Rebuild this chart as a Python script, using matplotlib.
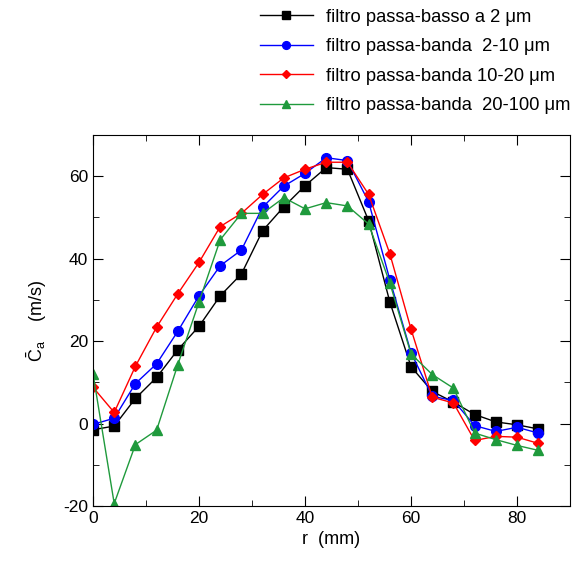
import numpy as np
import matplotlib.pyplot as plt
from matplotlib.ticker import MultipleLocator

plt.rcParams['font.family'] = ['Liberation Sans', 'DejaVu Sans']
plt.rcParams['mathtext.fontset'] = 'custom'
plt.rcParams['mathtext.rm'] = 'Liberation Sans'
plt.rcParams['mathtext.it'] = 'Liberation Sans'
plt.rcParams['axes.unicode_minus'] = False

# radial position (mm)
r = [0, 4, 8, 12, 16, 20, 24, 28, 32, 36, 40, 44, 48, 52, 56, 60, 64, 68, 72, 76, 80, 84]

# series values (m/s)
passa_basso_2 = [-1.5, -0.6, 6.1, 11.2, 17.9, 23.6, 31.0, 36.3, 46.8, 52.6, 57.7, 62.1,
                 61.7, 49.2, 29.5, 13.8, 7.8, 5.2, 2.2, 0.4, -0.3, -1.3]
banda_2_10 = [-0.2, 1.3, 9.7, 14.5, 22.4, 31.0, 38.3, 42.1, 52.5, 57.6, 60.7, 64.5,
              63.8, 53.8, 34.9, 17.2, 6.6, 5.6, -0.5, -1.9, -0.9, -2.3]
banda_10_20 = [8.8, 2.7, 13.9, 23.4, 31.5, 39.1, 47.8, 51.0, 55.6, 59.6, 61.7, 63.4,
               63.4, 55.6, 41.2, 22.9, 6.4, 5.0, -4.1, -3.1, -3.3, -4.8]
banda_20_100 = [12.1, -19.4, -5.1, -1.6, 14.3, 29.5, 44.6, 51.0, 51.0, 54.8, 52.1, 53.6,
                52.8, 48.4, 34.1, 16.9, 11.9, 8.6, -2.3, -3.9, -5.3, -6.5]

labels = ['filtro passa-basso a 2 \u03bcm',
          'filtro passa-banda  2-10 \u03bcm',
          'filtro passa-banda 10-20 \u03bcm',
          'filtro passa-banda  20-100 \u03bcm']

fig = plt.figure(figsize=(5.72, 5.65), dpi=100)
ax = fig.add_axes([0.1626, 0.1044, 0.834, 0.6566])

l1, = ax.plot(r, passa_basso_2, color='black', marker='s', ms=7.5, lw=1)
l2, = ax.plot(r, banda_2_10, color='#0000ff', marker='o', ms=7, lw=1)
l3, = ax.plot(r, banda_10_20, color='#ff0000', marker='D', ms=5.5, lw=1)
l4, = ax.plot(r, banda_20_100, color='#1f9a3c', marker='^', ms=7, lw=1)

ax.set_xlim(0, 90)
ax.set_ylim(-20, 70)
ax.xaxis.set_major_locator(MultipleLocator(20))
ax.xaxis.set_minor_locator(MultipleLocator(10))
ax.yaxis.set_major_locator(MultipleLocator(20))
ax.yaxis.set_minor_locator(MultipleLocator(10))
ax.tick_params(which='both', direction='in', top=True, right=True, labelsize=12.5)
ax.tick_params(which='major', length=7)
ax.tick_params(which='minor', length=4)
ax.set_yticks([-20, 0, 20, 40, 60])

ax.set_xlabel('r  (mm)', fontsize=13, labelpad=4)
ax.set_ylabel(r'$\bar{\mathrm{C}}_{\mathrm{a}}$    (m/s)', fontsize=13, labelpad=10)

fig.legend([l1, l2, l3, l4], labels, loc='upper left', bbox_to_anchor=(0.425, 1.014),
           frameon=False, fontsize=13.2, handlelength=2.9, handletextpad=0.7,
           labelspacing=0.68, markerscale=0.8)

fig.savefig('out.png', dpi=100)
